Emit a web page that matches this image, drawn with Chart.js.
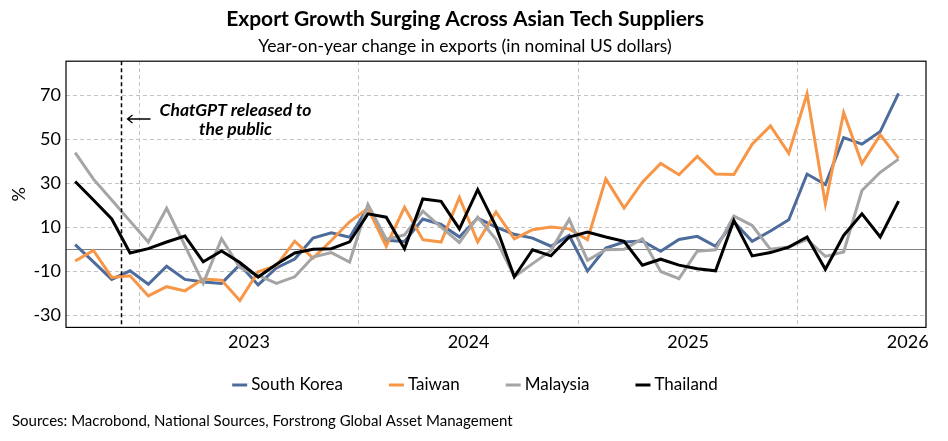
<!DOCTYPE html>
<html>
<head>
<meta charset="utf-8">
<script src="https://cdn.jsdelivr.net/npm/chart.js@4.4.1/dist/chart.umd.min.js"></script>
<style>
  body { margin: 0; background: #fff; }
  #wrap { width: 948px; height: 441px; }
</style>
</head>
<body>
<div id="wrap"><canvas id="chart"></canvas></div>
<script>
// monthly observations, Sep 2022 .. Jun 2026
const months = [
    '2022-09', '2022-10', '2022-11', '2022-12',
    '2023-01', '2023-02', '2023-03', '2023-04', '2023-05', '2023-06', '2023-07', '2023-08', '2023-09', '2023-10', '2023-11', '2023-12',
    '2024-01', '2024-02', '2024-03', '2024-04', '2024-05', '2024-06', '2024-07', '2024-08', '2024-09', '2024-10', '2024-11', '2024-12',
    '2025-01', '2025-02', '2025-03', '2025-04', '2025-05', '2025-06', '2025-07', '2025-08', '2025-09', '2025-10', '2025-11', '2025-12',
    '2026-01', '2026-02', '2026-03', '2026-04', '2026-05', '2026-06'
];

const southKorea = [
    2.1, -5.7, -13.7, -9.8, -15.9, -7.7, -13.7, -14.9, -15.5, -7.0, -16.2, -8.5, -4.4, 5.1, 7.5, 5.5,
    19.0, 4.1, 3.6, 13.8, 11.3, 5.6, 14.2, 10.1, 6.8, 5.1, 1.4, 6.3, -9.9, 0.6, 3.3,
    3.8, -0.9, 4.5, 5.9, 1.4, 12.5, 3.6, 8.3, 13.4, 34.2, 29.4, 50.8, 47.8, 53.5, 70.9
];
const taiwan = [
    -5.3, -0.5, -12.8, -12.0, -21.2, -17.0, -18.9, -13.5, -14.0, -23.3, -10.2, -7.4, 3.7, -4.0, 4.0, 12.5,
    18.6, 1.4, 19.1, 4.4, 3.3, 23.6, 3.3, 17.0, 4.8, 8.9, 10.1, 9.3, 4.4, 32.0, 18.7,
    30.5, 39.0, 33.9, 42.2, 34.2, 34.0, 47.8, 56.1, 43.6, 70.7, 20.6, 62.1, 39.0, 52.0, 41.3
];
const malaysia = [
    43.9, 31.9, 22.4, 12.8, 3.3, 18.6, 1.6, -15.5, 4.8, -8.3, -11.8, -15.5, -12.5, -3.5, -1.5, -5.8,
    20.4, 4.6, 6.5, 17.3, 10.1, 3.1, 14.6, 4.5, -12.5, -6.5, -0.6, 13.6, -5.0, -0.2, 0.0,
    4.8, -10.1, -13.3, -0.9, -0.2, 15.1, 10.8, 0.0, 1.0, 4.5, -3.2, -1.2, 26.7, 35.0, 41.0
];
const thailand = [
    30.8, 22.4, 13.8, -1.7, 0.3, 3.3, 6.0, -5.7, -0.8, -6.0, -12.6, -6.8, -1.7, 0.0, 0.3, 3.4,
    16.1, 14.6, 0.3, 22.9, 21.8, 9.3, 27.1, 10.4, -12.5, -0.2, -3.0, 5.6, 7.8, 5.6, 3.6,
    -7.2, -4.5, -7.2, -8.8, -9.8, 13.1, -3.0, -1.5, 1.0, 5.6, -9.1, 6.3, 16.1, 5.6, 21.9
];

const yearLabels = ['2023', '2024', '2025', '2026'];
const yTickLabels = [-30, -10, 10, 30, 50, 70];
const chatgptRelease = '2022-12';

// x position in months since Jan 2023, points sit mid-month
const monthPos = m => (Number(m.slice(0, 4)) - 2023) * 12 + Number(m.slice(5, 7)) - 1;
const toPoints = vals => vals.map((v, i) => ({ x: monthPos(months[i]) + 0.5, y: v }));

const yearStarts = yearLabels.map(y => monthPos(y + '-01'));
const yearMids = yearStarts.map(p => p + 6);

const font = 'Lato';
const gridGrey = '#c3c3c3';

const extras = {
    id: 'extras',
    beforeDatasetsDraw(chart) {
        const { ctx, chartArea: a, scales: { y } } = chart;
        const y0 = Math.round(y.getPixelForValue(0)) + 0.5;
        ctx.save();
        ctx.strokeStyle = '#808080';
        ctx.lineWidth = 1;
        ctx.beginPath();
        ctx.moveTo(a.left, y0);
        ctx.lineTo(a.right, y0);
        ctx.stroke();
        ctx.restore();
    },
    afterDatasetsDraw(chart) {
        const { ctx, chartArea: a, scales: { x } } = chart;
        const lx = Math.round(x.getPixelForValue(monthPos(chatgptRelease))) + 0.5;
        ctx.save();
        // release marker
        ctx.strokeStyle = '#000';
        ctx.lineWidth = 1.5;
        ctx.setLineDash([4, 3]);
        ctx.beginPath();
        ctx.moveTo(lx, a.top);
        ctx.lineTo(lx, a.bottom);
        ctx.stroke();
        ctx.setLineDash([]);

        // arrow pointing at the marker
        const ay = 119;
        ctx.lineWidth = 1.3;
        ctx.beginPath();
        ctx.moveTo(lx + 29, ay);
        ctx.lineTo(lx + 6, ay);
        ctx.moveTo(lx + 11, ay - 4);
        ctx.lineTo(lx + 6, ay);
        ctx.lineTo(lx + 11, ay + 4);
        ctx.stroke();

        ctx.fillStyle = '#000';
        ctx.font = `italic bold 17.5px ${font}`;
        ctx.textAlign = 'center';
        ctx.textBaseline = 'middle';
        ctx.fillText('ChatGPT released to', lx + 114, 110);
        ctx.fillText('the public', lx + 114, 129);

        // plot frame
        ctx.lineWidth = 1.2;
        ctx.strokeRect(a.left, a.top, a.right - a.left, a.bottom - a.top);
        ctx.restore();
    },
    afterDraw(chart) {
        const { ctx } = chart;
        ctx.save();
        ctx.font = `17px ${font}`;
        ctx.textBaseline = 'middle';
        ctx.textAlign = 'left';
        const items = chart.data.datasets.map(d => ({
            label: d.label, color: d.borderColor, w: ctx.measureText(d.label).width
        }));
        const lineLen = 15, gap = 4, spacing = 46;
        const total = items.reduce((s, it) => s + lineLen + gap + it.w, 0) + spacing * (items.length - 1);
        let lx = 475 - total / 2;
        const ly = 385;
        items.forEach(it => {
            ctx.strokeStyle = it.color;
            ctx.lineWidth = 3;
            ctx.beginPath();
            ctx.moveTo(lx, ly);
            ctx.lineTo(lx + lineLen, ly);
            ctx.stroke();
            ctx.fillStyle = '#000';
            ctx.fillText(it.label, lx + lineLen + gap, ly);
            lx += lineLen + gap + it.w + spacing;
        });

        ctx.font = `15px ${font}`;
        ctx.fillText('Sources: Macrobond, National Sources, Forstrong Global Asset Management', 12, 421);
        ctx.restore();
    }
};

const line = (label, data, color, order) => ({
    label,
    data: toPoints(data),
    borderColor: color,
    backgroundColor: color,
    borderWidth: 3,
    pointRadius: 0,
    tension: 0,
    order
});

new Chart(document.getElementById('chart'), {
    type: 'line',
    data: {
        datasets: [
            line('South Korea', southKorea, '#4D6C9B', 3),
            line('Taiwan', taiwan, '#F79646', 2),
            line('Malaysia', malaysia, '#A5A5A5', 1),
            line('Thailand', thailand, '#000000', 0)
        ]
    },
    options: {
        responsive: true,
        maintainAspectRatio: false,
        animation: false,
        layout: { padding: { left: 4, right: 22, top: 0, bottom: 84 } },
        plugins: {
            legend: { display: false },
            tooltip: { enabled: false },
            title: {
                display: true,
                text: 'Export Growth Surging Across Asian Tech Suppliers',
                color: '#000',
                font: { family: font, size: 21, weight: 'bold' },
                padding: { top: 7, bottom: 2 }
            },
            subtitle: {
                display: true,
                text: 'Year-on-year change in exports (in nominal US dollars)',
                color: '#000',
                font: { family: font, size: 17.5 },
                padding: { top: 2, bottom: 4 }
            }
        },
        scales: {
            x: {
                type: 'linear',
                min: monthPos(months[0]),
                max: monthPos(months[months.length - 1]) + 2,
                afterBuildTicks: s => {
                    s.ticks = [...yearStarts, ...yearMids].sort((a, b) => a - b).map(v => ({ value: v }));
                },
                ticks: {
                    autoSkip: false,
                    maxRotation: 0,
                    padding: 4,
                    color: '#000',
                    font: { family: font, size: 18 },
                    callback: v => {
                        const k = yearMids.indexOf(v);
                        return k >= 0 ? yearLabels[k] : '';
                    }
                },
                grid: {
                    drawTicks: false,
                    color: c => yearStarts.includes(c.tick.value) ? gridGrey : 'rgba(0,0,0,0)'
                },
                border: { display: false, dash: [4, 3] }
            },
            y: {
                min: -35.5,
                max: 85.5,
                afterBuildTicks: s => {
                    const t = [];
                    for (let v = -30; v <= 80; v += 10) t.push({ value: v });
                    s.ticks = t;
                },
                afterFit: s => { s.width = 62; },
                ticks: {
                    padding: 5,
                    color: '#000',
                    font: { family: font, size: 18 },
                    callback: v => yTickLabels.includes(v) ? String(v) : ''
                },
                grid: {
                    drawTicks: false,
                    color: c => c.tick.value === 0 ? 'rgba(0,0,0,0)' : gridGrey
                },
                border: { display: false, dash: [4, 3] },
                title: {
                    display: true,
                    text: '%',
                    color: '#000',
                    font: { family: font, size: 18 },
                    padding: { top: 4, bottom: 0 }
                }
            }
        }
    },
    plugins: [extras]
});
</script>
</body>
</html>
